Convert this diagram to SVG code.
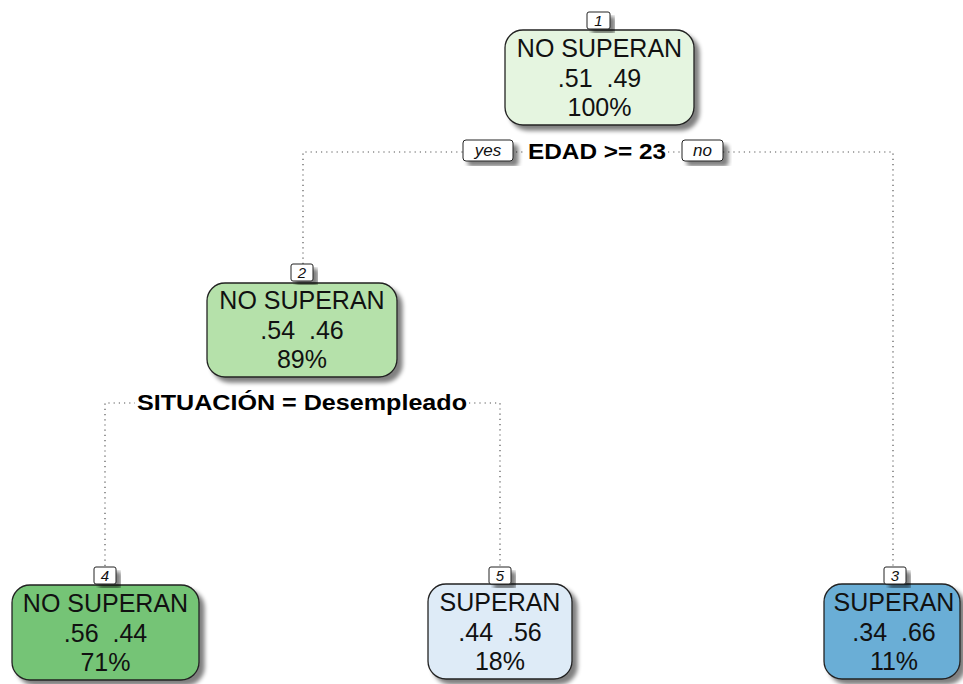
<svg xmlns="http://www.w3.org/2000/svg" width="963" height="684" viewBox="0 0 963 684">
<defs>
<filter id="sh" x="-10%" y="-10%" width="130%" height="130%">
<feGaussianBlur in="SourceAlpha" stdDeviation="2"/>
<feOffset dx="5" dy="5" result="b"/>
<feComponentTransfer in="b" result="c"><feFuncA type="linear" slope="0.5"/></feComponentTransfer>
<feMerge><feMergeNode in="c"/><feMergeNode in="SourceGraphic"/></feMerge>
</filter>
</defs>
<style>
.box{stroke:#222;stroke-width:1.3}
.t{font-family:"Liberation Sans",Arial,sans-serif;font-size:25px;fill:#111;text-anchor:middle}
.lb{fill:#fff;stroke:#222;stroke-width:1}
.lt{font-family:"Liberation Sans",Arial,sans-serif;font-size:15px;font-style:italic;fill:#111;text-anchor:middle}
.yn{font-family:"Liberation Sans",Arial,sans-serif;font-size:17px;font-style:italic;fill:#111;text-anchor:middle}
.sp{font-family:"Liberation Sans",Arial,sans-serif;font-size:22px;font-weight:bold;fill:#000;text-anchor:middle}
.c{stroke:#555;stroke-width:1.2;stroke-dasharray:1.2 4;fill:none}
</style>
<rect width="963" height="684" fill="#fff"/>
<g id="connectors">
<path class="c" d="M303,264 V152 H463"/>
<path class="c" d="M516,152 H526"/>
<path class="c" d="M668,152 H681"/>
<path class="c" d="M723,152 H893 V566"/>
<path class="c" d="M105,566 V403 H135"/>
<path class="c" d="M469,403 H500 V566"/>
<g id="yes">
<rect class="lb" x="463" y="140" width="50" height="21" rx="3" filter="url(#sh)"/>
<text class="yn" x="488" y="156">yes</text>
</g>
<g id="no">
<rect class="lb" x="682" y="140" width="41" height="21" rx="3" filter="url(#sh)"/>
<text class="yn" x="702.5" y="156">no</text>
</g>
<text class="sp" x="597" y="159" textLength="138" lengthAdjust="spacingAndGlyphs">EDAD &gt;= 23</text>
<text class="sp" x="302" y="410" textLength="330" lengthAdjust="spacingAndGlyphs">SITUACIÓN = Desempleado</text>
</g>
<g id="node1">
<rect class="box" x="505" y="30" width="189" height="95" rx="18" fill="#E5F5E0" filter="url(#sh)"/>
<rect class="lb" x="587" y="12" width="23" height="17" rx="2" filter="url(#sh)"/>
<text class="lt" x="598.5" y="26">1</text>
<text class="t" x="599.5" y="57">NO SUPERAN</text>
<text class="t" x="599.5" y="87" xml:space="preserve">.51  .49</text>
<text class="t" x="599.5" y="116">100%</text>
</g>
<g id="node2">
<rect class="box" x="207" y="283" width="190" height="94" rx="18" fill="#B5E1AA" filter="url(#sh)"/>
<rect class="lb" x="291" y="264" width="22" height="17" rx="2" filter="url(#sh)"/>
<text class="lt" x="302" y="278">2</text>
<text class="t" x="302" y="309">NO SUPERAN</text>
<text class="t" x="302" y="339" xml:space="preserve">.54  .46</text>
<text class="t" x="302" y="368">89%</text>
</g>
<g id="node4">
<rect class="box" x="12" y="585" width="187" height="95" rx="18" fill="#74C476" filter="url(#sh)"/>
<rect class="lb" x="94" y="567" width="22" height="17" rx="2" filter="url(#sh)"/>
<text class="lt" x="105" y="581">4</text>
<text class="t" x="105.5" y="612">NO SUPERAN</text>
<text class="t" x="105.5" y="642" xml:space="preserve">.56  .44</text>
<text class="t" x="105.5" y="671">71%</text>
</g>
<g id="node5">
<rect class="box" x="428" y="584" width="144" height="95" rx="18" fill="#DEEBF7" filter="url(#sh)"/>
<rect class="lb" x="489" y="567" width="22" height="17" rx="2" filter="url(#sh)"/>
<text class="lt" x="500" y="581">5</text>
<text class="t" x="500" y="611">SUPERAN</text>
<text class="t" x="500" y="641" xml:space="preserve">.44  .56</text>
<text class="t" x="500" y="670">18%</text>
</g>
<g id="node3">
<rect class="box" x="824" y="584" width="136" height="95" rx="18" fill="#6BAED6" filter="url(#sh)"/>
<rect class="lb" x="884" y="567" width="22" height="17" rx="2" filter="url(#sh)"/>
<text class="lt" x="895" y="581">3</text>
<text class="t" x="894" y="611">SUPERAN</text>
<text class="t" x="894" y="641" xml:space="preserve">.34  .66</text>
<text class="t" x="894" y="670">11%</text>
</g>
</svg>
